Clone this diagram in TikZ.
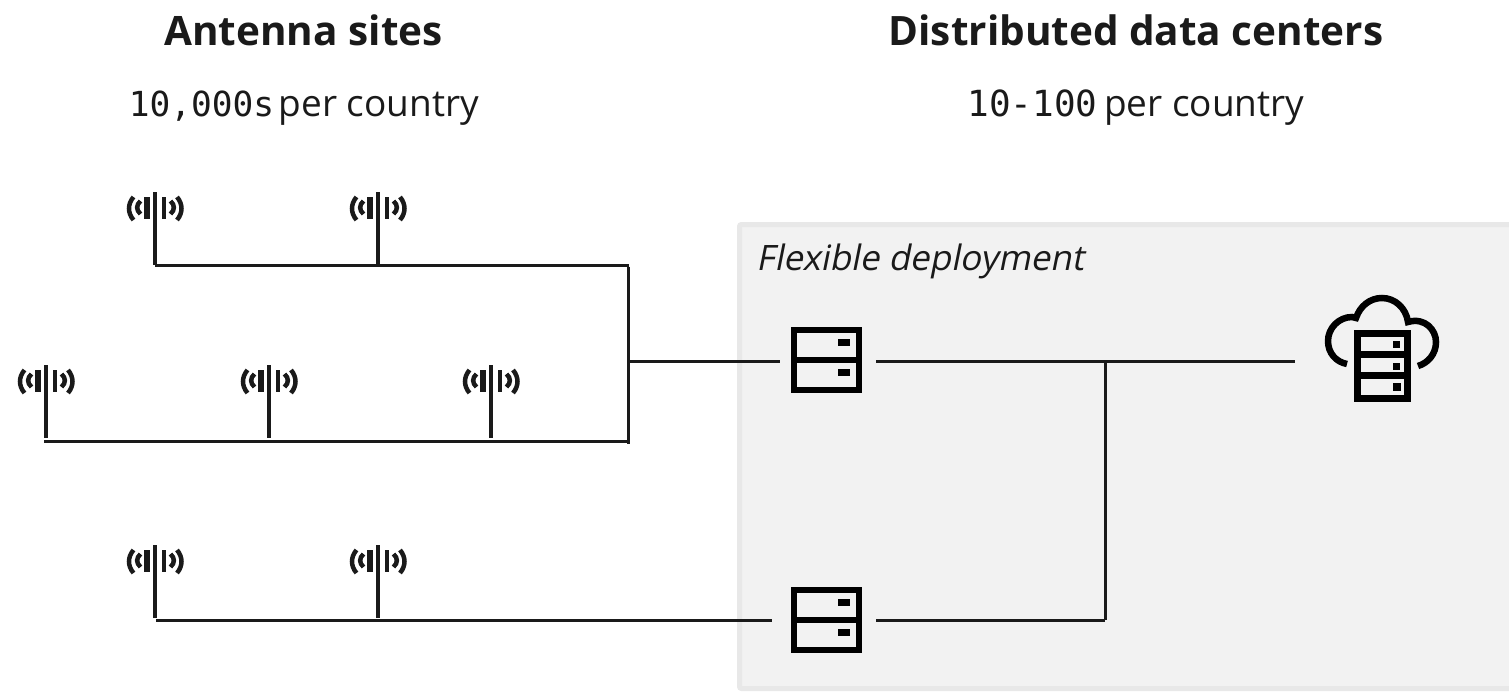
\documentclass[tikz,border=0pt]{standalone}
\usepackage{fontspec}
\setmainfont{Open Sans}
\newfontfamily\headfont{Open Sans}
\newfontfamily\digitfont{DejaVu Sans Mono}
\newfontfamily\lightfont{Open Sans}[FakeSlant=0.2]
\definecolor{ink}{HTML}{1A1A1A}
\definecolor{panelfill}{HTML}{F2F2F2}
\definecolor{panelline}{HTML}{E8E8E8}
\tikzset{
  wire/.style={line width=3pt,draw=ink,line cap=butt},
  mast/.style={line width=4.5pt,draw=ink},
  panel/.style={fill=panelfill,draw=panelline,line width=5pt,rounded corners=2pt},
  headtext/.style={font=\headfont\bfseries\fontsize{40.5}{46}\selectfont,text=ink,inner sep=0pt},
  subtext/.style={font=\fontsize{37}{44}\selectfont,text=ink,inner sep=0pt},
  slanttext/.style={font=\lightfont\fontsize{35}{40}\selectfont,text=ink,inner sep=0pt},
  serverbox/.style={draw=black,line width=6pt,minimum width=65pt,minimum height=60pt,inner sep=0pt,outer sep=0pt,
    path picture={\draw[line width=6pt,black] (path picture bounding box.west)--(path picture bounding box.east);
      \fill[black] ([shift={(11.5,-21)}]path picture bounding box.center) rectangle ++(12,7);
      \fill[black] ([shift={(11.5,9)}]path picture bounding box.center) rectangle ++(12,7);}},
  antenna/.pic={
    \draw[mast] (0,-73)--(0,0);
    \fill[ink] (-11,-68) rectangle (-5.5,-46);
    \fill[ink] (6.5,-68) rectangle (11,-46);
    \draw[ink,line width=4.5pt] (-14.5,-64) .. controls (-19,-60) and (-19,-55) .. (-14.5,-51);
    \draw[ink,line width=4.5pt] (15.5,-64) .. controls (20,-60) and (20,-55) .. (15.5,-51);
    \draw[ink,line width=4.5pt] (-21.5,-68) .. controls (-27.5,-61) and (-27.5,-52) .. (-21.5,-45);
    \draw[ink,line width=4.5pt] (22,-68) .. controls (28,-61) and (28,-52) .. (22,-45);
  }
}
\begin{document}
\begin{tikzpicture}[x=1pt,y=-1pt]
\useasboundingbox (0,0) rectangle (1509,691);
\path[panel] (739.5,224.5) rectangle (1515,688.5);
\node[headtext] (h1) at (303.5,30) {Antenna sites};
\node[headtext] (h2) at (1136,30) {Distributed data centers};
\node[subtext] (s1) at (304,108) {{\digitfont\fontsize{34.5}{44}\selectfont 10,000s}\kern-5pt{} per country};
\node[subtext] (s2) at (1136,108) {{\digitfont\fontsize{36}{44}\selectfont 10-100}\kern-3pt{} per country};
\node[slanttext,anchor=base west] (flex) at (756,270) {Flexible deployment};

\coordinate (a1) at (155,265);
\coordinate (a2) at (378,265);
\coordinate (a3) at (46,438);
\coordinate (a4) at (269,438);
\coordinate (a5) at (491,438);
\coordinate (a6) at (155,618);
\coordinate (a7) at (378,618);
\foreach \n in {a1,a2,a3,a4,a5,a6,a7} \pic at (\n) {antenna};

\coordinate (topjoin) at (628.5,265);
\coordinate (botjoin) at (628.5,441);
\coordinate (botend) at (628.5,444);
\coordinate (rowtwo) at (44,441);
\coordinate (rowthree) at (156,620);
\coordinate (midjoin) at (628.5,361);
\coordinate (busjoin) at (1105,361);
\coordinate (busbot) at (1105,620);

\node[serverbox] (srv1) at (826.5,360) {};
\node[serverbox] (srv2) at (826.5,620) {};

\draw[wire] (a1) -- (topjoin);
\draw[wire] ([yshift=-1.5pt]topjoin) -- (botend);
\draw[wire] (rowtwo) -- (botjoin);
\draw[wire] (midjoin) -- ([xshift=-14pt]srv1.west |- midjoin);
\draw[wire] ([xshift=17pt]srv1.east |- busjoin) -- (1295,361) coordinate (cloudin);
\draw[wire] (busjoin) -- (busbot);
\draw[wire] ([xshift=17pt]srv2.east |- busbot) -- (busbot);
\draw[wire] (rowthree) -- ([xshift=-22pt]srv2.west);

% cloud
\draw[line width=6.5pt,black] (1347,364) .. controls (1336,362) and (1328,353) .. (1328,341)
  .. controls (1328,328) and (1339,317) .. (1352,317) -- (1356,318)
  .. controls (1360,306) and (1370,298) .. (1382,298)
  .. controls (1395,298) and (1406,308) .. (1408,322)
  .. controls (1425,317) and (1436,330) .. (1436,342)
  .. controls (1436,354) and (1428,363) .. (1418,366);
\node[draw=black,fill=panelfill,line width=7pt,minimum width=50pt,minimum height=65pt,inner sep=0pt] (rack) at (1382.5,366) {};
\fill[black] (1354,351) rectangle (1411,358);
\fill[black] (1354,372) rectangle (1411,379);
\fill[black] (1393,341) rectangle (1400,348);
\fill[black] (1393,363) rectangle (1400,370);
\fill[black] (1393,383) rectangle (1401,391);
\end{tikzpicture}
\end{document}
